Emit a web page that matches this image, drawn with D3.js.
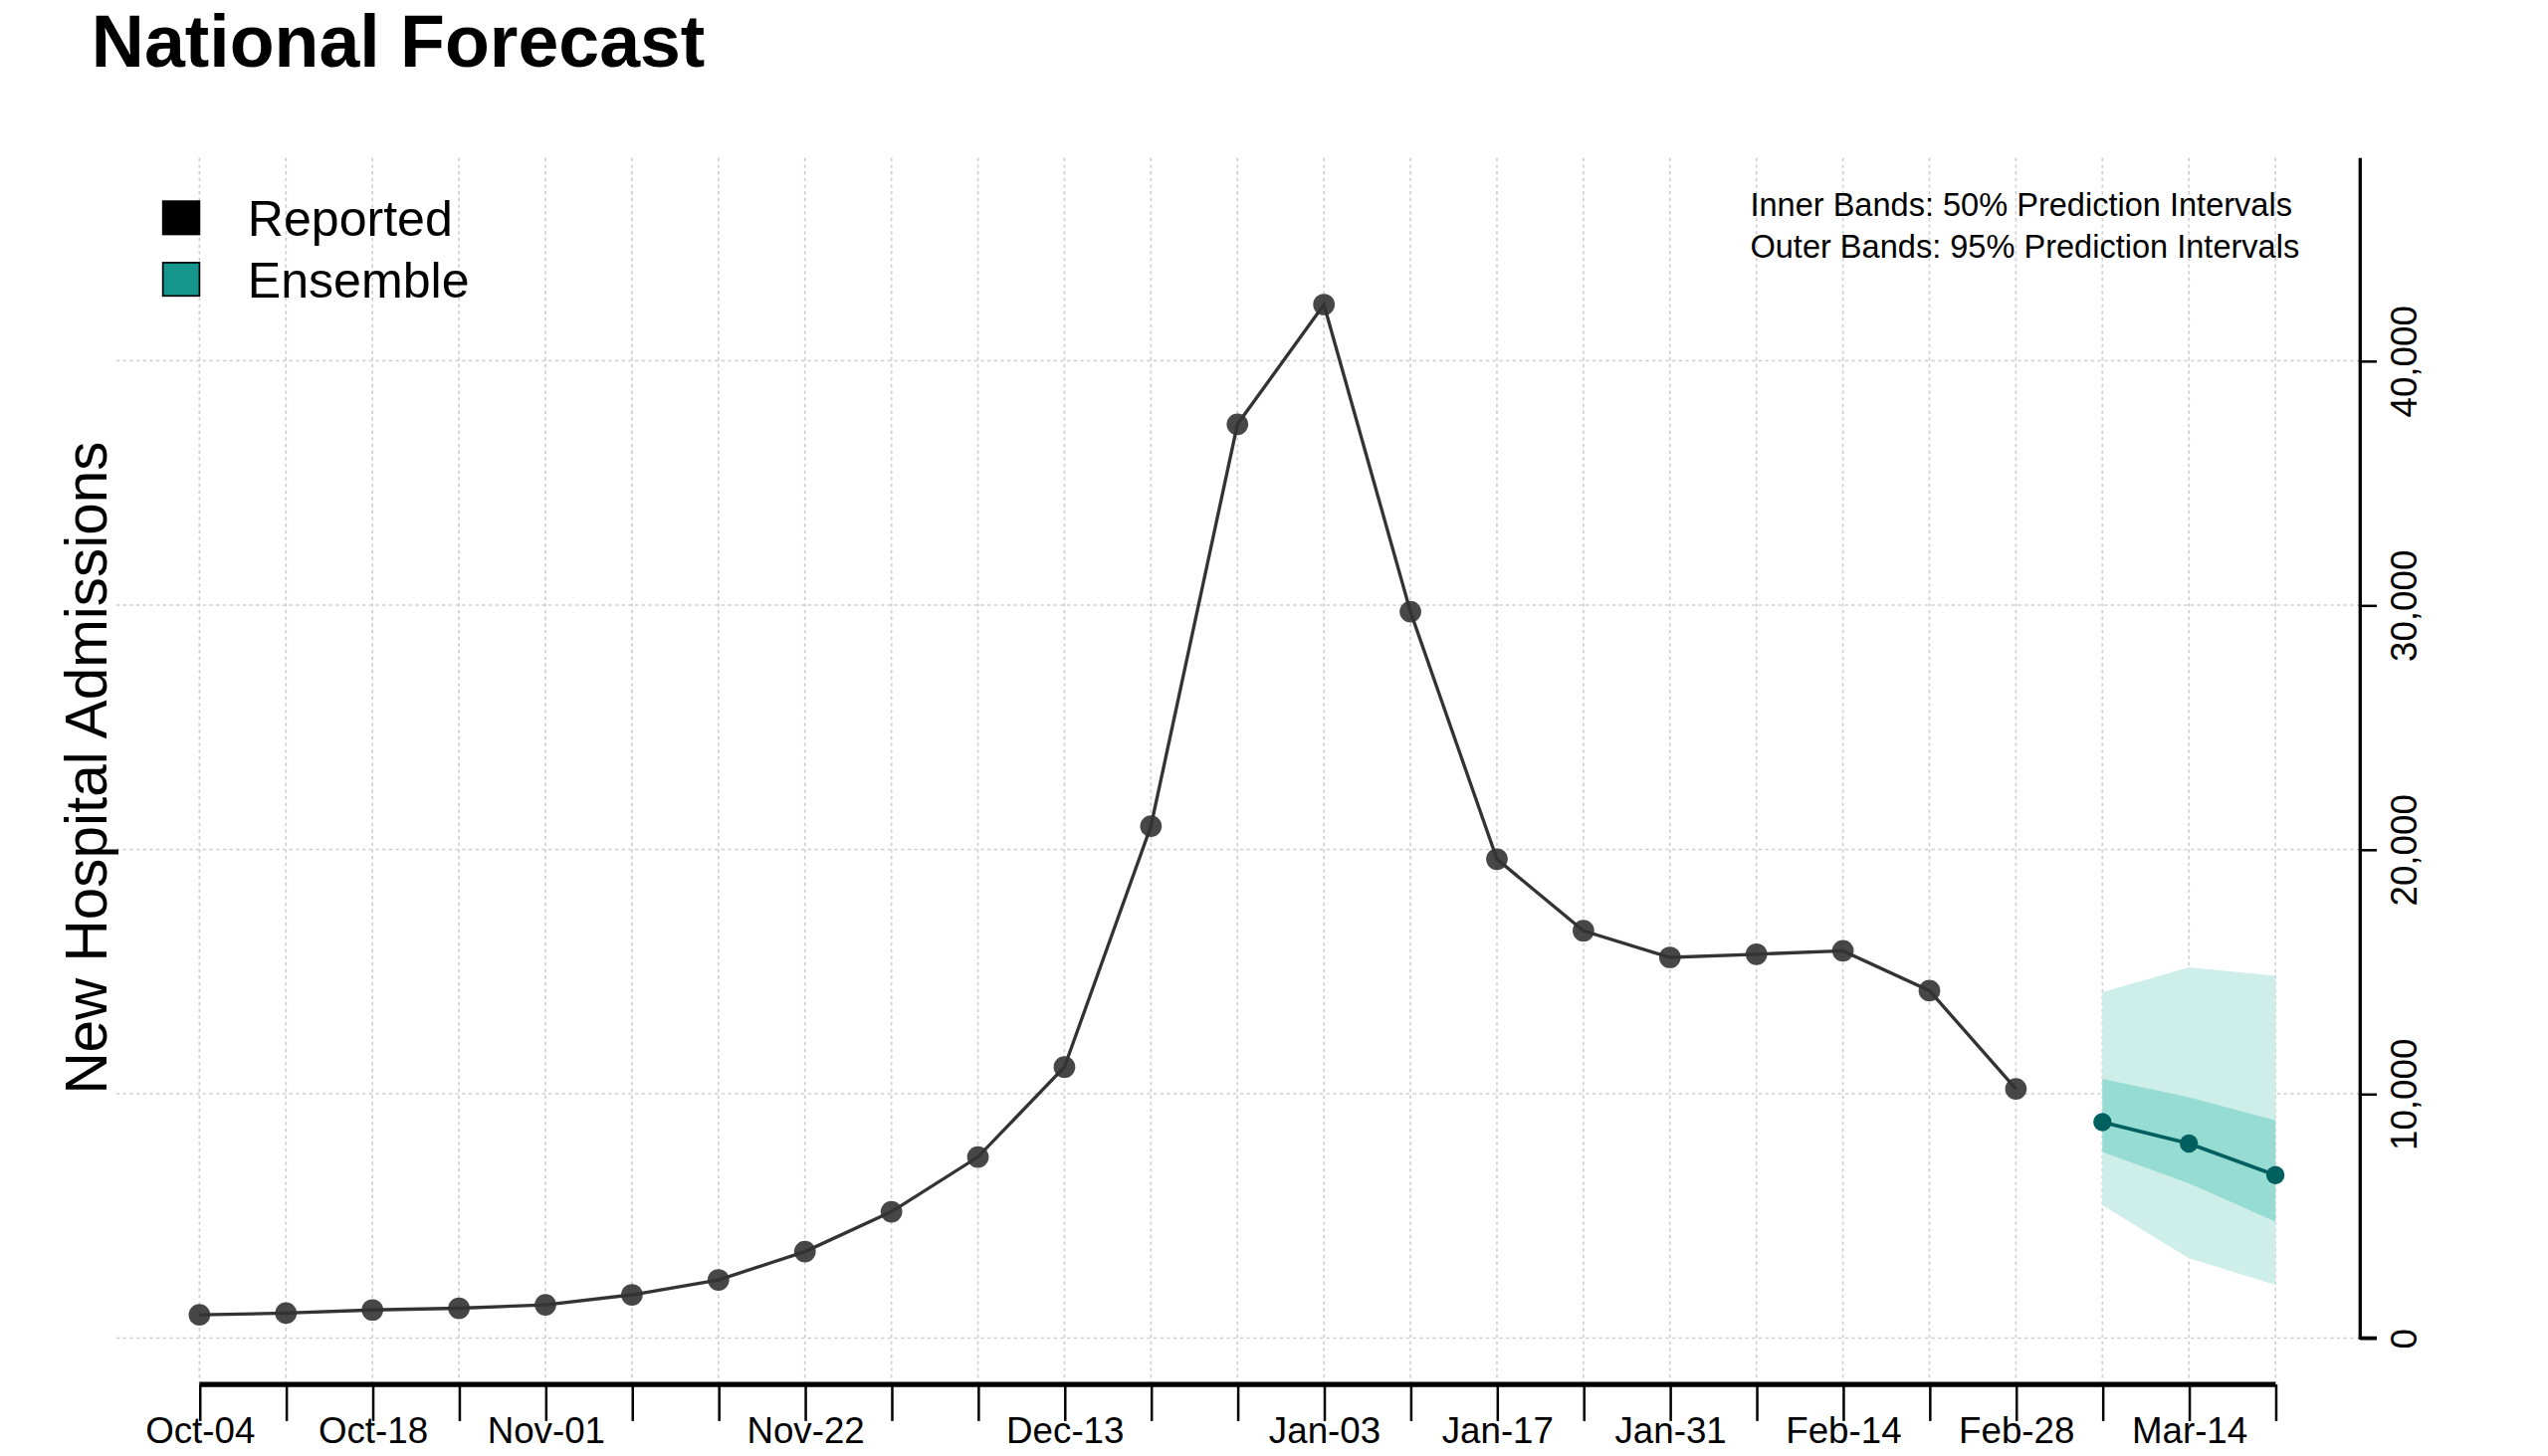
<!DOCTYPE html>
<html><head><meta charset="utf-8">
<script src="https://cdn.jsdelivr.net/npm/d3@7"></script>
<style>body{margin:0;background:#fff}svg{display:block;font-family:"Liberation Sans",Arial,sans-serif}</style>
</head><body><svg id="c" width="2560" height="1463" viewBox="0 0 1533 876"></svg>
<script>
const weeks = ["Oct-04","Oct-11","Oct-18","Oct-25","Nov-01","Nov-08","Nov-15","Nov-22","Nov-29","Dec-06","Dec-13","Dec-20","Dec-27","Jan-03","Jan-10","Jan-17","Jan-24","Jan-31","Feb-07","Feb-14","Feb-21","Feb-28","Mar-07","Mar-14","Mar-21"];
const tickLabels = ["Oct-04","Oct-18","Nov-01","Nov-22","Dec-13","Jan-03","Jan-17","Jan-31","Feb-14","Feb-28","Mar-14"];
const reported = [950,1020,1150,1220,1360,1770,2380,3540,5170,7410,11090,20950,37400,42300,29730,19600,16670,15580,15710,15850,14220,10200];
const fcWeeks = ["Mar-07","Mar-14","Mar-21"];
const fcMedian = [8840,7960,6670];
const fcLo95 = [5440,3270,2180];
const fcHi95 = [14150,15170,14830];
const fcLo50 = [7620,6330,4760];
const fcHi50 = [10610,9860,8910];
const yTicks = [0,10000,20000,30000,40000];

const svg = d3.select("#c");
const x = d3.scalePoint().domain(weeks).range([120,1369]);
const y = d3.scaleLinear().domain([-1900,48300]).range([833,95]);

svg.append("g").selectAll("line").data(weeks).join("line")
  .attr("x1",d=>x(d)).attr("x2",d=>x(d)).attr("y1",95).attr("y2",833)
  .attr("stroke","#cfcfcf").attr("stroke-dasharray","2,2").attr("stroke-width",1);
svg.append("g").selectAll("line").data(yTicks).join("line")
  .attr("x1",70).attr("x2",1420).attr("y1",d=>y(d)).attr("y2",d=>y(d))
  .attr("stroke","#cfcfcf").attr("stroke-dasharray","2,2").attr("stroke-width",1);

const fc = fcWeeks.map((w,i)=>({w,m:fcMedian[i],l95:fcLo95[i],h95:fcHi95[i],l50:fcLo50[i],h50:fcHi50[i]}));
svg.append("path").datum(fc).attr("fill","#cdeee9")
  .attr("d",d3.area().x(d=>x(d.w)).y0(d=>y(d.l95)).y1(d=>y(d.h95)));
svg.append("path").datum(fc).attr("fill","#97dcd3")
  .attr("d",d3.area().x(d=>x(d.w)).y0(d=>y(d.l50)).y1(d=>y(d.h50)));

const rep = reported.map((v,i)=>({w:weeks[i],v}));
svg.append("path").datum(rep).attr("fill","none").attr("stroke","#333").attr("stroke-width",2)
  .attr("d",d3.line().x(d=>x(d.w)).y(d=>y(d.v)));
svg.append("g").selectAll("circle").data(rep).join("circle")
  .attr("cx",d=>x(d.w)).attr("cy",d=>y(d.v)).attr("r",6.5).attr("fill","#333").attr("fill-opacity",0.9);

svg.append("path").datum(fc).attr("fill","none").attr("stroke","#005f5f").attr("stroke-width",2.2)
  .attr("d",d3.line().x(d=>x(d.w)).y(d=>y(d.m)));
svg.append("g").selectAll("circle").data(fc).join("circle")
  .attr("cx",d=>x(d.w)).attr("cy",d=>y(d.m)).attr("r",5.5).attr("fill","#005f5f");

const xa = svg.append("g").attr("transform","translate(0,833)")
  .call(d3.axisBottom(x).tickSize(22).tickFormat(d=>tickLabels.includes(d)?d:""));
xa.select(".domain").attr("stroke-width",3).attr("d","M120,0H1369");
xa.selectAll(".tick line").attr("stroke-width",1.5);
xa.selectAll("text").attr("font-size",22).attr("dy",0).attr("y",35).attr("fill","#000")
  .attr("font-family","'Liberation Sans',Arial,sans-serif");

const ya = svg.append("g").attr("transform","translate(1420,0)")
  .call(d3.axisRight(y).tickValues(yTicks).tickSize(10).tickFormat(d3.format(",")));
ya.select(".domain").attr("stroke-width",2).attr("d","M0,95V805H10");
ya.selectAll(".tick line").attr("stroke-width",1.5);
ya.selectAll("text").attr("font-size",22).attr("fill","#000")
  .attr("transform","rotate(-90)").attr("x",0).attr("y",26).attr("dy","0.35em")
  .attr("text-anchor","middle").attr("font-family","'Liberation Sans',Arial,sans-serif");

svg.append("text").attr("x",55).attr("y",40).attr("font-size",44).attr("font-weight","bold").text("National Forecast");
svg.append("text").attr("transform","translate(64,462) rotate(-90)").attr("text-anchor","middle")
  .attr("font-size",35).text("New Hospital Admissions");

const leg = [["Reported","#000"],["Ensemble","#14968c"]];
leg.forEach((d,i)=>{
  svg.append("rect").attr("x",98).attr("y",121+i*37).attr("width",22).attr("height",20)
    .attr("fill",d[1]).attr("stroke","#000").attr("stroke-width",1);
  svg.append("text").attr("x",149).attr("y",142+i*37).attr("font-size",30).text(d[0]);
});
svg.append("text").attr("x",1053).attr("y",130).attr("font-size",19.5).text("Inner Bands: 50% Prediction Intervals");
svg.append("text").attr("x",1053).attr("y",155).attr("font-size",19.5).text("Outer Bands: 95% Prediction Intervals");
</script></body></html>
